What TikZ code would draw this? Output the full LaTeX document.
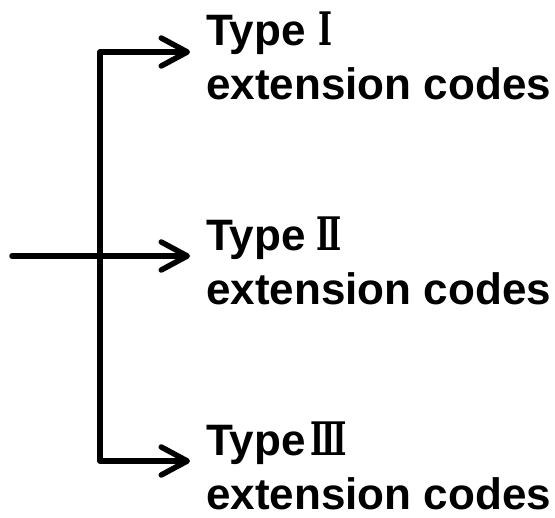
\documentclass[tikz,border=0pt]{standalone}
\usepackage{graphicx}
\usepackage{fontspec}
\setmainfont{Liberation Sans}
\newfontfamily\rmn{DejaVu Serif}
\usetikzlibrary{arrows.meta}
\tikzset{
  barb/.tip={Straight Barb[length=26pt,width=28pt,line cap=round,line join=round]},
  conn/.style={line width=5.5pt, line join=round, line cap=round},
  lab/.style={anchor=base west, inner sep=0pt, font=\fontsize{44}{52}\selectfont\bfseries}
}
\newcommand{\rnum}[1]{\scalebox{0.68}[1.05]{\fontsize{44}{52}\selectfont\rmn\bfseries #1}}
\begin{document}
\begin{tikzpicture}[x=1pt,y=-1pt]
\useasboundingbox (0,0) rectangle (555,518);
\coordinate (src) at (12,256);
\coordinate (jt) at (100,52);
\coordinate (jb) at (100,461);
\coordinate (tip1) at (190,52);
\coordinate (tip2) at (190,256);
\coordinate (tip3) at (190,461);
\node[lab] (t1) at (206,46) {Type\kern13pt\rnum{Ⅰ}};
\node[lab] (e1) at (206,100) {extension codes};
\node[lab] (t2) at (206,251) {Type\kern11pt\rnum{Ⅱ}};
\node[lab] (e2) at (206,305) {extension codes};
\node[lab] (t3) at (206,456) {Type\kern5pt\rnum{Ⅲ}};
\node[lab] (e3) at (206,510) {extension codes};
\draw[conn, {barb}-{barb}] (tip1) -- (jt) -- (jb) -- (tip3);
\draw[conn, -{barb}] (src) -- (tip2);
\end{tikzpicture}
\end{document}
